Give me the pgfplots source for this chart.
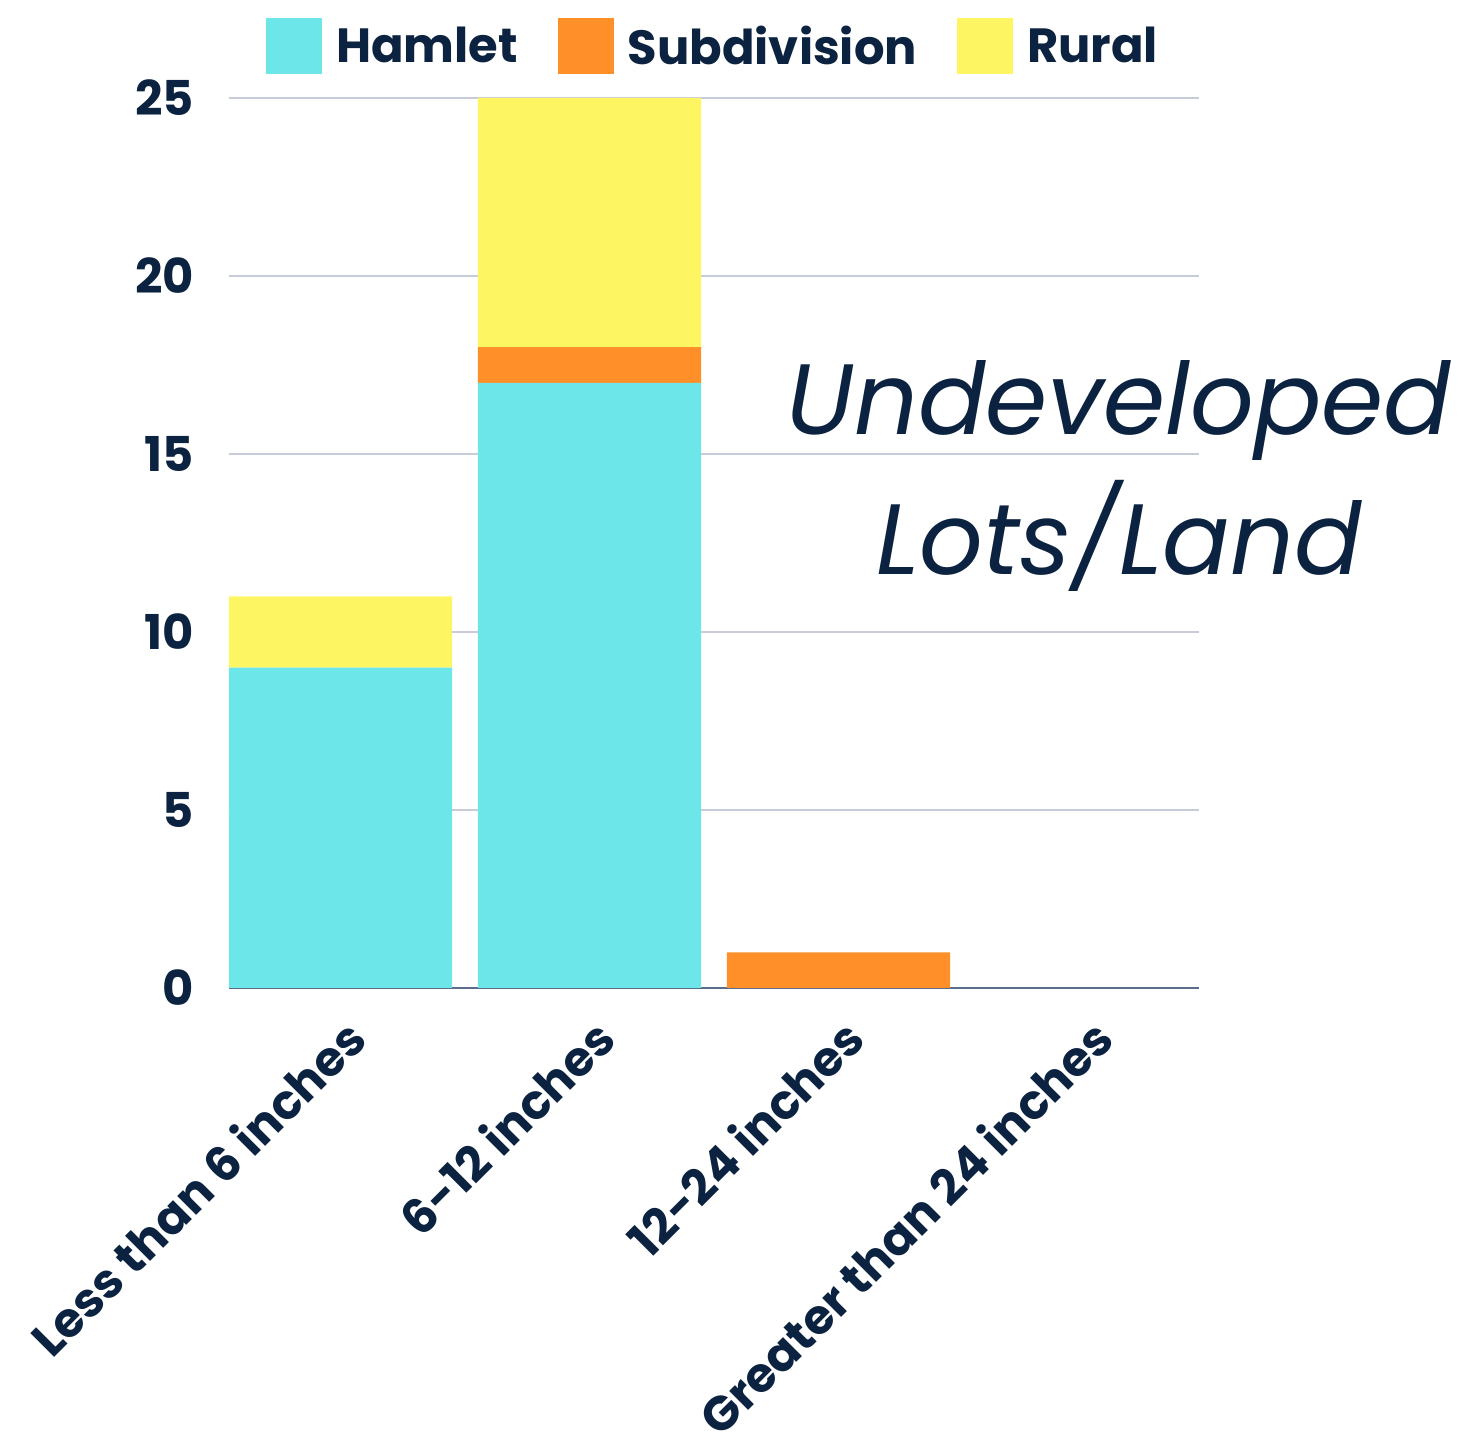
\documentclass[border=0pt]{standalone}
\usepackage{pgfplots}
\pgfplotsset{compat=1.18}
\usepackage{fontspec}
\setmainfont{Poppins}
\definecolor{navy}{HTML}{0B2240}
\definecolor{hamlet}{HTML}{6CE6E8}
\definecolor{subdiv}{HTML}{FF9029}
\definecolor{rural}{HTML}{FEF562}
\definecolor{gridc}{HTML}{C8CCD8}
\definecolor{basec}{HTML}{5A6E8C}
\begin{document}
\begin{tikzpicture}
\path[use as bounding box] (-114.5pt,-228pt) rectangle (617pt,494pt);
\begin{axis}[
  scale only axis,
  width=485pt, height=445pt,
  ybar stacked,
  bar width=0.896,
  xmin=-0.448, xmax=3.448,
  ymin=0, ymax=25,
  xtick=data,
  xticklabels={Less than 6 inches,6-12 inches,12-24 inches,Greater than 24 inches},
  ytick={0,5,10,15,20,25},
  axis line style={draw=none},
  major tick length=0pt,
  ymajorgrids,
  grid style={gridc, line width=0.6pt},
  tick label style={font=\bfseries\fontsize{24}{28}\selectfont, text=navy},
  /pgf/number format/assume math mode=true,
  yticklabel style={xshift=-14pt},
  xticklabel style={rotate=45, anchor=east, font=\bfseries\fontsize{24}{28}\selectfont, xshift=-5.5pt, yshift=-20pt},
  legend style={at={(0.5,1.058)}, anchor=center, draw=none, fill=none,
     legend columns=-1, font=\bfseries\fontsize{24}{28}\selectfont, text=navy,
     /tikz/every odd column/.append style={column sep=5pt},
     /tikz/every even column/.append style={column sep=18pt}},
  legend image code/.code={\fill[#1] (0pt,-14pt) rectangle (28pt,14pt);},
  clip=false,
]
\addplot[fill=hamlet, draw=none] coordinates {(0,9) (1,17) (2,0) (3,0)};
\addplot[fill=subdiv, draw=none] coordinates {(0,0) (1,1) (2,1) (3,0)};
\addplot[fill=rural, draw=none] coordinates {(0,2) (1,7) (2,0) (3,0)};
\legend{Hamlet,Subdivision,Rural}
\draw[basec, line width=0.8pt] (axis cs:-0.448,0) -- (axis cs:3.448,0);
\end{axis}
\node[text=navy, font=\itshape\fontsize{50}{70}\selectfont, align=center] at (445pt,256pt) {Undeveloped\\Lots/Land};
\end{tikzpicture}
\end{document}
